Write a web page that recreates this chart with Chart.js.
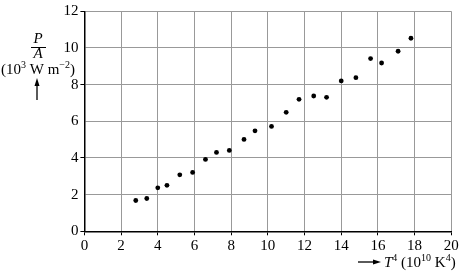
<!DOCTYPE html>
<html>
<head>
<meta charset="utf-8">
<script src="https://cdn.jsdelivr.net/npm/chart.js@4"></script>
<style>
html,body{margin:0;padding:0;background:#fff;}
canvas{display:block;}
</style>
</head>
<body>
<canvas id="c" width="464" height="277"></canvas>
<script>
// T^4 values (10^10 K^4)
const t4Values = [2.8, 3.4, 4.0, 4.5, 5.2, 5.9, 6.6, 7.2, 7.9, 8.7, 9.3, 10.2, 11.0, 11.7, 12.5, 13.2, 14.0, 14.8, 15.6, 16.2, 17.1, 17.8];
// P/A values (10^3 W m^-2)
const paValues = [1.68, 1.79, 2.37, 2.51, 3.08, 3.21, 3.92, 4.30, 4.41, 5.01, 5.48, 5.72, 6.49, 7.20, 7.38, 7.31, 8.20, 8.38, 9.42, 9.18, 9.82, 10.53];
const xTicks = [0, 2, 4, 6, 8, 10, 12, 14, 16, 18, 20];
const yTicks = [0, 2, 4, 6, 8, 10, 12];

const SERIF = '"Liberation Serif", "Times New Roman", serif';

function drawRuns(ctx, runs, startX, baseline) {
  let x = startX;
  for (const r of runs) {
    ctx.font = r.font;
    ctx.fillText(r.t, x, baseline + (r.dy || 0));
    x += ctx.measureText(r.t).width;
  }
  return x;
}
function runsWidth(ctx, runs) {
  let w = 0;
  for (const r of runs) { ctx.font = r.font; w += ctx.measureText(r.t).width; }
  return w;
}

const titlePlugin = {
  id: 'titles',
  afterDraw(chart) {
    const ctx = chart.ctx;
    ctx.save();
    ctx.fillStyle = '#000';
    ctx.strokeStyle = '#000';
    ctx.textBaseline = 'alphabetic';
    const big = '15px ' + SERIF;
    const bigI = 'italic 15px ' + SERIF;
    const small = '10px ' + SERIF;
    const smallI = 'italic 10px ' + SERIF;
    // Y title: P / A
    const cx = 38;
    ctx.textAlign = 'center';
    ctx.font = bigI;
    ctx.fillText('P', cx, 43);
    ctx.fillText('A', cx, 58);
    ctx.lineWidth = 1;
    ctx.beginPath();
    ctx.moveTo(31, 47.5); ctx.lineTo(46, 47.5);
    ctx.stroke();
    ctx.textAlign = 'left';
    const yUnit = [
      {t: '(10', font: big},
      {t: '3', font: small, dy: -6},
      {t: ' W m', font: big},
      {t: '\u22122', font: small, dy: -6},
      {t: ')', font: big}
    ];
    const w1 = runsWidth(ctx, yUnit);
    drawRuns(ctx, yUnit, cx - w1 / 2, 74);
    // up arrow
    ctx.lineWidth = 1.3;
    ctx.beginPath();
    ctx.moveTo(37, 100); ctx.lineTo(37, 84);
    ctx.stroke();
    ctx.beginPath();
    ctx.moveTo(37, 78); ctx.lineTo(34.5, 86); ctx.lineTo(39.5, 86); ctx.closePath();
    ctx.fill();
    // X title: -> T^4 (10^10 K^4)
    ctx.lineWidth = 1.3;
    ctx.beginPath();
    ctx.moveTo(358, 262); ctx.lineTo(375, 262);
    ctx.stroke();
    ctx.beginPath();
    ctx.moveTo(381, 262); ctx.lineTo(373, 259.5); ctx.lineTo(373, 264.5); ctx.closePath();
    ctx.fill();
    const xUnit = [
      {t: 'T', font: bigI},
      {t: '4', font: small, dy: -6},
      {t: ' (10', font: big},
      {t: '10', font: small, dy: -6},
      {t: ' K', font: big},
      {t: '4', font: small, dy: -6},
      {t: ')', font: big}
    ];
    drawRuns(ctx, xUnit, 384, 267);
    ctx.restore();
  }
};

new Chart(document.getElementById('c'), {
  type: 'scatter',
  data: {
    datasets: [{
      data: t4Values.map((x, i) => ({x: x, y: paValues[i]})),
      backgroundColor: '#000',
      borderColor: '#000',
      pointRadius: 2.4,
      pointHoverRadius: 2.4,
      borderWidth: 0
    }]
  },
  options: {
    responsive: false,
    devicePixelRatio: 1,
    animation: false,
    layout: {padding: {left: 0, right: 12.7, top: 11.3, bottom: 0}},
    plugins: {legend: {display: false}, tooltip: {enabled: false}},
    scales: {
      x: {
        type: 'linear',
        min: 0, max: 20,
        afterBuildTicks: s => { s.ticks = xTicks.map(v => ({value: v})); },
        afterFit: s => { s.height = 45.7; },
        border: {color: '#000', width: 1.5},
        grid: {
          color: ctx => ctx.tick && ctx.tick.value === 0 ? 'rgba(0,0,0,0)' : '#999',
          lineWidth: 1,
          tickLength: 4,
          tickColor: '#000',
          drawTicks: true
        },
        ticks: {
          color: '#000',
          font: {family: SERIF, size: 15},
          padding: 2,
          maxRotation: 0,
          autoSkip: false
        }
      },
      y: {
        type: 'linear',
        min: 0, max: 12,
        afterBuildTicks: s => { s.ticks = yTicks.map(v => ({value: v})); },
        afterFit: s => { s.width = 84.4; },
        border: {color: '#000', width: 1.5},
        grid: {
          color: ctx => ctx.tick && ctx.tick.value === 0 ? 'rgba(0,0,0,0)' : '#999',
          lineWidth: 1,
          tickLength: 4,
          tickColor: ctx => (ctx.tick && ctx.tick.value % 4 === 0) ? '#000' : 'rgba(0,0,0,0)',
          drawTicks: true
        },
        ticks: {
          color: '#000',
          font: {family: SERIF, size: 15},
          padding: 2,
          autoSkip: false
        }
      }
    }
  },
  plugins: [titlePlugin]
});
</script>
</body>
</html>
